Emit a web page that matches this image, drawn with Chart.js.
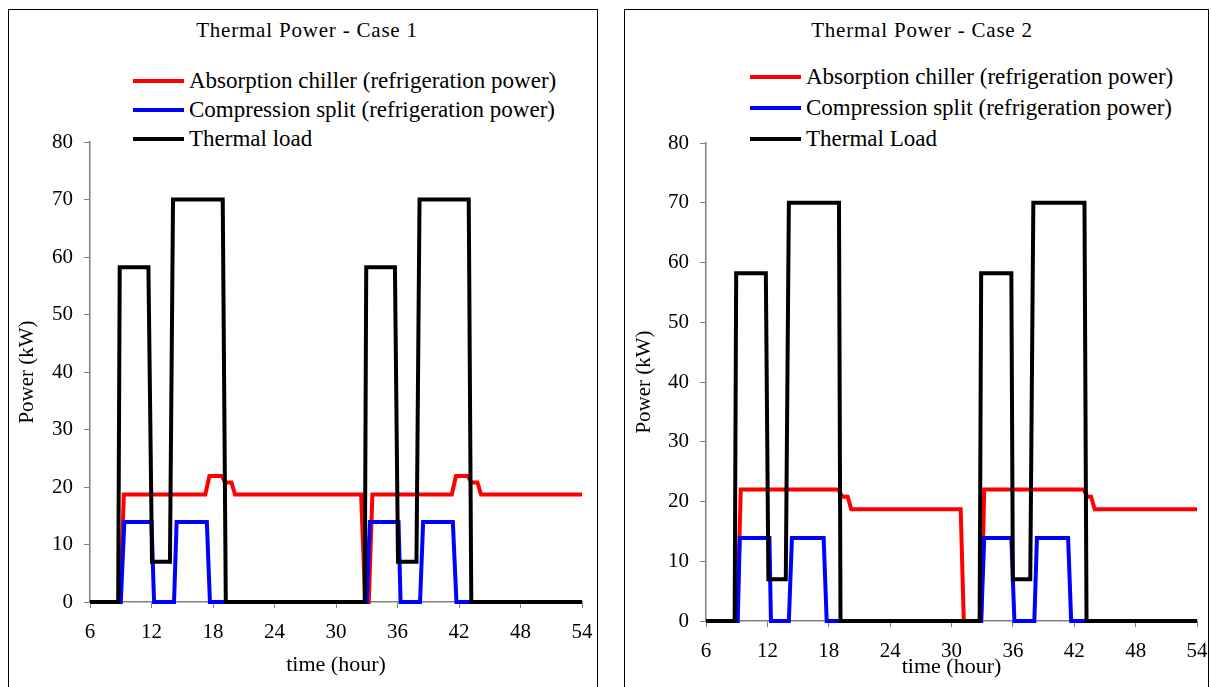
<!DOCTYPE html>
<html lang="en">
<head>
  <meta charset="UTF-8" />
  <title>Thermal Power</title>
  <script src="https://cdn.jsdelivr.net/npm/chart.js"></script>
  <style>
    body { margin: 0; background: #fff; width: 1211px; height: 687px; overflow: hidden; position: relative;
           font-family: "Liberation Serif", "Times New Roman", serif; color: #000; }
    .panel { position: absolute; top: 9px; height: 700px; border: 1px solid #000; box-sizing: border-box; }
    canvas { position: absolute; }
    .title { position: absolute; font-size: 21px; letter-spacing: 0.8px; line-height: 24px;
             transform: translateX(-50%); white-space: nowrap; }
    .legend { position: absolute; font-size: 23px; }
    .legend .row { display: flex; align-items: center; white-space: nowrap; }
    .legend .swatch { width: 51px; height: 4px; margin-right: 5px; }
  </style>
</head>
<body>

<div class="panel" style="left:8px; width:590px;"></div>
<div class="panel" style="left:624px; width:585px;"></div>

<div class="title" style="left:307px; top:18px;">Thermal Power - Case 1</div>
<div class="title" style="left:922px; top:18px;">Thermal Power - Case 2</div>

<!-- Legenden -->
<div class="legend" style="left:133px; top:66px;">
  <div class="row" style="height:29px;"><span class="swatch" style="background:#ff0000"></span>Absorption chiller (refrigeration power)</div>
  <div class="row" style="height:29px;"><span class="swatch" style="background:#0000ff"></span>Compression split (refrigeration power)</div>
  <div class="row" style="height:29px;"><span class="swatch" style="background:#000"></span>Thermal load</div>
</div>
<div class="legend" style="left:750px; top:61px;">
  <div class="row" style="height:31px;"><span class="swatch" style="background:#ff0000"></span>Absorption chiller (refrigeration power)</div>
  <div class="row" style="height:31px;"><span class="swatch" style="background:#0000ff"></span>Compression split (refrigeration power)</div>
  <div class="row" style="height:31px;"><span class="swatch" style="background:#000"></span>Thermal Load</div>
</div>

<canvas id="case1" width="587" height="677" style="left:9px; top:10px;"></canvas>
<canvas id="case2" width="586" height="677" style="left:625px; top:10px;"></canvas>

<script>
  // Case 1 (time in hours, power in kW)
  const case1LoadT = [6, 8.75, 8.9, 11.7, 12.05, 13.8, 14.1, 18.95, 19.25, 32.8, 32.95, 35.75, 36.05, 37.85, 38.15, 42.95, 43.2, 54];
  const case1LoadV = [0, 0, 58.2, 58.2, 7, 7, 70, 70, 0, 0, 58.2, 58.2, 7, 7, 70, 70, 0, 0];
  const case1AbsT = [6, 8.95, 9.3, 17.25, 17.65, 18.85, 19.2, 19.8, 20.15, 32.45, 32.85, 33.2, 33.55, 41.3, 41.7, 42.85, 43.2, 43.8, 44.15, 54];
  const case1AbsV = [0, 0, 18.7, 18.7, 21.9, 21.9, 20.8, 20.8, 18.7, 18.7, 0, 0, 18.7, 18.7, 21.9, 21.9, 20.8, 20.8, 18.7, 18.7];
  const case1SplitT = [6, 9.0, 9.35, 12.0, 12.25, 14.2, 14.45, 17.4, 17.7, 33.0, 33.3, 36.1, 36.3, 38.2, 38.5, 41.4, 41.75, 54];
  const case1SplitV = [0, 0, 13.9, 13.9, 0, 0, 13.9, 13.9, 0, 0, 13.9, 13.9, 0, 0, 13.9, 13.9, 0, 0];

  // Case 2
  const case2LoadT = [6, 8.8, 8.95, 11.85, 12.1, 13.8, 14.1, 19.0, 19.15, 32.75, 32.9, 35.85, 36.0, 37.7, 38.0, 43.0, 43.2, 54];
  const case2LoadV = [0, 0, 58.2, 58.2, 7, 7, 70, 70, 0, 0, 58.2, 58.2, 7, 7, 70, 70, 0, 0];
  const case2AbsT = [6, 9.05, 9.4, 18.9, 19.35, 19.85, 20.2, 30.9, 31.2, 32.9, 33.2, 42.9, 43.3, 43.65, 44.0, 54];
  const case2AbsV = [0, 0, 22, 22, 20.8, 20.8, 18.7, 18.7, 0, 0, 22, 22, 20.8, 20.8, 18.7, 18.7];
  const case2SplitT = [6, 9.1, 9.3, 12.2, 12.35, 14.1, 14.4, 17.5, 17.8, 32.9, 33.2, 35.85, 36.15, 38.1, 38.35, 41.4, 41.7, 54];
  const case2SplitV = [0, 0, 13.9, 13.9, 0, 0, 13.9, 13.9, 0, 0, 13.9, 13.9, 0, 0, 13.9, 13.9, 0, 0];

  const font = '"Liberation Serif", "Times New Roman", serif';
  const axisGray = '#808080';

  function pts(t, v) {
    return t.map((x, i) => ({ x: x, y: v[i] }));
  }

  function series(label, t, v, color, order) {
    return {
      label: label, data: pts(t, v), borderColor: color, backgroundColor: color,
      borderWidth: 4, pointRadius: 0, tension: 0, fill: false, order: order, clip: 4
    };
  }

  function makeChart(id, abs, split, load, opts) {
    new Chart(document.getElementById(id), {
      type: 'line',
      data: { datasets: [abs, split, load] },
      options: {
        responsive: false,
        animation: false,
        events: [],
        layout: { padding: { left: 0, right: 14, top: opts.top, bottom: 0 } },
        plugins: { legend: { display: false }, tooltip: { enabled: false } },
        scales: {
          x: {
            type: 'linear', min: 6, max: 54,
            ticks: { stepSize: 6, color: '#000', padding: 12, font: { family: font, size: 21 } },
            grid: { drawOnChartArea: false, drawTicks: true, tickLength: 6, color: axisGray },
            border: { display: true, color: axisGray, width: 1.5 },
            title: { display: true, text: 'time (hour)', color: '#000',
                     font: { family: font, size: 22 }, padding: { top: 0, bottom: opts.xTitlePad } },
            // feste Achsenhöhe, kein Extra-Rand für das letzte Label
            afterFit: s => { s.height = opts.xHeight; s.paddingRight = 0; s.paddingLeft = 0; }
          },
          y: {
            min: 0, max: 80,
            ticks: { stepSize: 10, color: '#000', padding: 11, font: { family: font, size: 21 } },
            grid: { drawOnChartArea: false, drawTicks: true, tickLength: 6, color: axisGray },
            border: { display: true, color: axisGray, width: 1.5 },
            title: { display: true, text: 'Power (kW)', color: '#000',
                     font: { family: font, size: 21 }, padding: { top: opts.yTitlePad, bottom: 0 } },
            afterFit: s => { s.width = 81; s.paddingTop = 0; s.paddingBottom = 0; }
          }
        }
      }
    });
  }

  makeChart('case1',
    series('Absorption chiller (refrigeration power)', case1AbsT, case1AbsV, '#ff0000', 2),
    series('Compression split (refrigeration power)', case1SplitT, case1SplitV, '#0000ff', 1),
    series('Thermal load', case1LoadT, case1LoadV, '#000000', 0),
    { top: 132, xHeight: 85, xTitlePad: 9, yTitlePad: 6 });

  makeChart('case2',
    series('Absorption chiller (refrigeration power)', case2AbsT, case2AbsV, '#ff0000', 2),
    series('Compression split (refrigeration power)', case2SplitT, case2SplitV, '#0000ff', 1),
    series('Thermal Load', case2LoadT, case2LoadV, '#000000', 0),
    { top: 133, xHeight: 66, xTitlePad: 7, yTitlePad: 7 });
</script>

</body>
</html>
